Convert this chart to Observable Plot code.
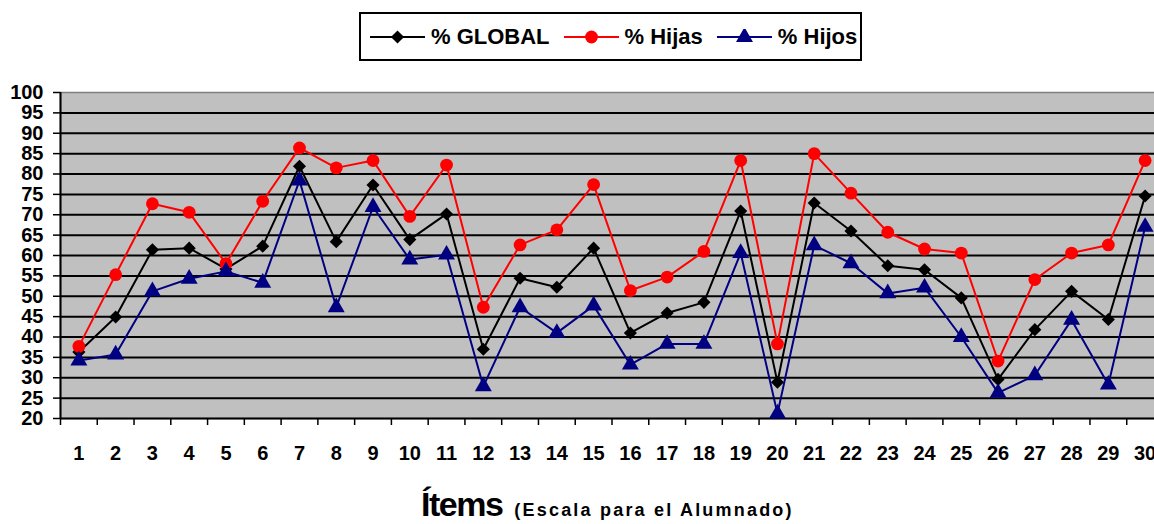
<!DOCTYPE html>
<html>
<head>
<meta charset="utf-8">
<script src="https://cdn.jsdelivr.net/npm/d3@7"></script>
<script src="https://cdn.jsdelivr.net/npm/@observablehq/plot@0.6"></script>
<style>
  html, body { margin: 0; padding: 0; background: #fff; overflow: hidden; width: 1154px; height: 524px; }
  body { position: relative; font-family: "Liberation Sans", Arial, sans-serif; }
  #legend {
    position: absolute; left: 359px; top: 12px; width: 490px; height: 45px; padding-left: 9px;
    border: 2px solid #000; background: #fff;
    display: flex; align-items: center; justify-content: flex-start;
    font-weight: bold; font-size: 22px; color: #000; white-space: nowrap;
  }
  #legend .item { display: flex; align-items: center; margin-right: 14px; flex-shrink: 0; white-space: nowrap; }
  #legend svg { margin-right: 6px; flex-shrink: 0; }
  #chart { position: absolute; left: 0; top: 70px; }
  #chart svg { max-width: none !important; }
  #xtitle {
    position: absolute; left: 421px; top: 486px; line-height: 36px; white-space: nowrap;
    font-weight: bold; color: #000;
  }
  #xtitle .big { font-size: 34px; letter-spacing: -1.5px; }
  #xtitle .small { font-size: 18px; letter-spacing: 2.2px; margin-left: 12px; }
</style>
</head>
<body>
<div id="legend"></div>
<div id="chart"></div>
<div id="xtitle"><span class="big">Ítems</span><span class="small">(Escala para el Alumnado)</span></div>
<script>
// ---- data ----
const items = [1, 2, 3, 4, 5, 6, 7, 8, 9, 10, 11, 12, 13, 14, 15, 16, 17, 18, 19, 20, 21, 22, 23, 24, 25, 26, 27, 28, 29, 30];
const globalPct = [36.3, 44.9, 61.4, 61.8, 56.7, 62.3, 81.9, 63.4, 77.3, 63.9, 70.2, 37.0, 54.4, 52.2, 61.8, 41.0, 45.9, 48.5, 70.9, 28.9, 72.9, 66.0, 57.5, 56.5, 49.6, 29.6, 41.8, 51.2, 44.3, 74.6];
const hijasPct  = [37.7, 55.3, 72.7, 70.6, 58.0, 73.3, 86.4, 81.5, 83.3, 69.6, 82.2, 47.3, 62.6, 66.3, 77.4, 51.4, 54.7, 61.0, 83.3, 38.3, 85.0, 75.3, 65.7, 61.6, 60.6, 34.1, 54.1, 60.6, 62.6, 83.3];
const hijosPct  = [34.2, 35.7, 51.2, 54.3, 56.1, 53.3, 78.4, 47.3, 71.9, 59.0, 60.2, 27.9, 47.3, 41.0, 47.7, 33.2, 38.3, 38.3, 60.6, 21.2, 62.5, 58.1, 50.7, 52.1, 40.0, 26.3, 30.6, 44.2, 28.3, 67.0];
const yTicks = [20, 25, 30, 35, 40, 45, 50, 55, 60, 65, 70, 75, 80, 85, 90, 95, 100];
const seriesNames = ["% GLOBAL", "% Hijas", "% Hijos"];
const seriesColors = ["#000000", "#ff0000", "#000080"];
const seriesSymbols = ["diamond2", "circle", "triangle"];
const seriesR = [5.9, 6.4, 6.3];

const seriesValues = [globalPct, hijasPct, hijosPct];
const rows = seriesValues.map(vals => items.map((it, i) => ({item: it, value: vals[i]})));
const boundaries = items.map(d => d - 0.5).concat([items[items.length - 1] + 0.5]);

const marks = [
  Plot.frame({fill: "#c0c0c0", stroke: "#808080", strokeWidth: 1.5}),
  Plot.ruleY(yTicks.filter(t => t > 20 && t < 100), {stroke: "#000", strokeWidth: 2}),
  Plot.ruleY([20], {stroke: "#000", strokeWidth: 2}),
  Plot.ruleX([0.5], {stroke: "#000", strokeWidth: 2}),
  Plot.ruleX(boundaries, {x: d => d, y1: 20, y2: 20, insetBottom: -7, stroke: "#000", strokeWidth: 1.5}),
  Plot.axisY({ticks: yTicks, label: null, tickSize: 7, tickPadding: 10, tickFormat: d => String(d), fontSize: 20, fontWeight: "bold", stroke: "#000", strokeWidth: 1.5}),
  Plot.axisX({ticks: items, label: null, tickSize: 0, tickPadding: 27, tickFormat: d => String(d), fontSize: 20, fontWeight: "bold"})
];
rows.forEach((data, k) => {
  marks.push(Plot.line(data, {x: "item", y: "value", stroke: seriesColors[k], strokeWidth: 2}));
  marks.push(Plot.dot(data, {x: "item", y: "value", symbol: () => seriesSymbols[k], fill: seriesColors[k], stroke: "none", r: seriesR[k]}));
});

const chart = Plot.plot({
  width: 1166,
  height: 400,
  marginLeft: 60,
  marginRight: 3,
  marginTop: 22,
  marginBottom: 52,
  x: {type: "linear", domain: [0.5, 30.5], axis: null, label: null},
  y: {domain: [20, 100], axis: null, label: null},
  symbol: {type: "identity"},
  style: {fontFamily: "'Liberation Sans', Arial, sans-serif", fontSize: "20px", fontWeight: "bold", color: "#000", background: "transparent", maxWidth: "none", overflow: "visible"},
  marks
});
document.getElementById("chart").appendChild(chart);

// ---- legend ----
const legend = document.getElementById("legend");
seriesNames.forEach((name, k) => {
  const item = document.createElement("div");
  item.className = "item";
  const s = d3.create("svg").attr("width", 55).attr("height", 16);
  s.append("line").attr("x1", 0).attr("x2", 55).attr("y1", 8).attr("y2", 8).attr("stroke", seriesColors[k]).attr("stroke-width", 2);
  const sym = {diamond2: d3.symbolDiamond2, circle: d3.symbolCircle, triangle: d3.symbolTriangle}[seriesSymbols[k]];
  s.append("path").attr("transform", "translate(27.5,8)").attr("d", d3.symbol(sym, Math.PI * seriesR[k] * seriesR[k])()).attr("fill", seriesColors[k]);
  item.appendChild(s.node());
  const t = document.createElement("span");
  t.textContent = name;
  item.appendChild(t);
  legend.appendChild(item);
});
</script>
</body>
</html>
